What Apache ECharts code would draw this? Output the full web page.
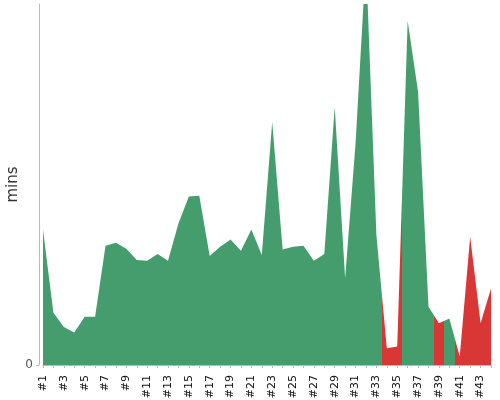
<!DOCTYPE html>
<html>
<head>
<meta charset="utf-8">
<script src="https://cdn.jsdelivr.net/npm/echarts@6/dist/echarts.min.js"></script>
<style>
  html, body { margin: 0; padding: 0; background: #fff; }
  #chart { width: 500px; height: 400px; }
</style>
</head>
<body>
<div id="chart"></div>
<script>
// build labels #1..#44
const categories = [];
for (let i = 1; i <= 44; i++) categories.push('#' + i);

const minutes = [
  33.7, 13.0, 9.5, 8.1, 12.0, 12.0, 29.7, 30.5, 29.0, 26.2,
  26.0, 27.7, 26.0, 35.3, 42.0, 42.2, 27.2, 29.5, 31.3, 28.5,
  33.8, 27.4, 60.6, 28.8, 29.5, 29.7, 26.0, 27.7, 64.3, 21.6,
  55.3, 101, 32.4, 4.2, 4.6, 85.8, 68.1, 14.5, 10.4, 11.6,
  2.1, 32.0, 10.4, 19.1
];

// 0 = on time (green), 1 = late (red)
const late = [
  0, 0, 0, 0, 0, 0, 0, 0, 0, 0,
  0, 0, 0, 0, 0, 0, 0, 0, 0, 0,
  0, 0, 0, 0, 0, 0, 0, 0, 0, 0,
  0, 0, 0, 1, 1, 0, 0, 0, 1, 0,
  1, 1, 1, 1
];

const GREEN = '#459d6e';
const RED = '#d93636';

// colour switches halfway between two points
function areaGradient() {
  const n = minutes.length - 1;
  const stops = [];
  late.forEach((v, i) => {
    const c = v ? RED : GREEN;
    stops.push({ offset: Math.max(0, (i - 0.5) / n), color: c });
    stops.push({ offset: Math.min(1, (i + 0.5) / n), color: c });
  });
  return new echarts.graphic.LinearGradient(0, 0, 1, 0, stops);
}

const chart = echarts.init(document.getElementById('chart'));
chart.setOption({
  animation: false,
  grid: { left: 43, right: 9, top: 4, bottom: 35, outerBoundsMode: 'none' },
  xAxis: {
    type: 'category',
    data: categories,
    boundaryGap: false,
    offset: 4,
    axisLine: { lineStyle: { color: '#bbb' } },
    axisTick: { interval: 0, length: 3, lineStyle: { color: '#bbb' } },
    axisLabel: {
      interval: 1,
      rotate: 90,
      margin: 6,
      fontSize: 11,
      color: '#111',
      fontFamily: 'DejaVu Sans'
    }
  },
  yAxis: {
    type: 'value',
    min: 0,
    max: 90,
    offset: 4,
    name: 'mins',
    nameLocation: 'middle',
    nameGap: 18,
    nameMoveOverlap: false,
    nameTextStyle: { fontSize: 15, color: '#333', fontFamily: 'DejaVu Sans' },
    axisLine: { show: true, lineStyle: { color: '#bbb' } },
    axisTick: { show: true, length: 3, customValues: [0], lineStyle: { color: '#bbb' } },
    axisLabel: { customValues: [0], fontSize: 12, color: '#555', margin: 6, fontFamily: 'DejaVu Sans' },
    splitLine: { show: false }
  },
  series: [{
    type: 'line',
    data: minutes,
    showSymbol: false,
    lineStyle: { width: 0, opacity: 0 },
    areaStyle: { color: areaGradient(), opacity: 1 },
    clip: true
  }]
});
</script>
</body>
</html>
